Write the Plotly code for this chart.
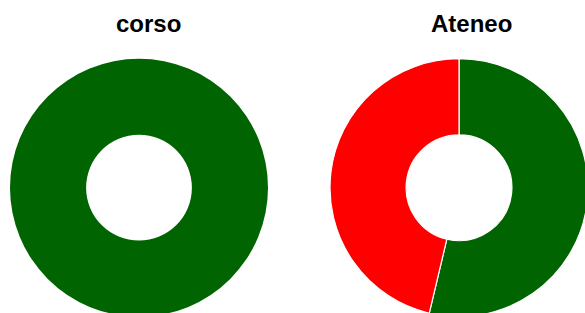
import plotly.graph_objects as go

labels = ["Sì", "No"]
corso_values = [100, 0]
ateneo_values = [53.7, 46.3]
titles = ["corso", "Ateneo"]
colors = ["#006400", "#ff0000"]

W, H = 590, 320
fig = go.Figure()

def dom(cx, cy_top, r=129):
    return dict(x=[(cx - r) / W, (cx + r) / W], y=[(H - cy_top - r) / H, (H - cy_top + r) / H])

for vals, cx in [(corso_values, 139), (ateneo_values, 459)]:
    lw = 0 if 0 in vals else 1.2
    fig.add_trace(go.Pie(
        labels=labels, values=vals, hole=0.41, sort=False, direction="clockwise",
        rotation=0, textinfo="none", hoverinfo="label+percent",
        marker=dict(colors=colors, line=dict(color="white", width=lw)),
        domain=dom(cx, 187.7), showlegend=False,
    ))

for t, cx in zip(titles, [148.5, 471]):
    fig.add_annotation(text="<b>%s</b>" % t, x=cx / W, y=(H - 23) / H, xref="paper", yref="paper",
                       xanchor="center", yanchor="middle", showarrow=False,
                       font=dict(family="Liberation Sans, Arial", size=24, color="black"))

fig.update_layout(width=W, height=H, margin=dict(l=0, r=0, t=0, b=0),
                  paper_bgcolor="white", plot_bgcolor="white", showlegend=False)

fig.write_html("out.html", config={"displayModeBar": False},
               post_script="document.body.style.margin='0';document.body.style.overflow='hidden';")
